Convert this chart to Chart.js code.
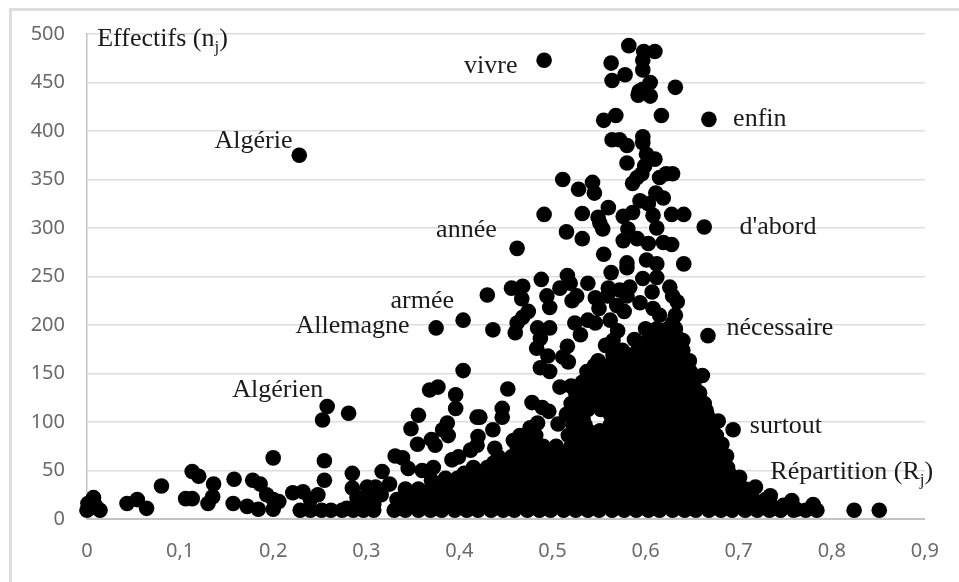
<!DOCTYPE html>
<html>
<head>
<meta charset="utf-8">
<title>Effectifs et répartition</title>
<script src="https://cdn.jsdelivr.net/npm/chart.js@4"></script>
<style>
	html, body { margin: 0; padding: 0; background: #fff; overflow: hidden; }
	#wrap { position: relative; width: 959px; height: 582px; }
	#frame { position: absolute; left: 9px; top: 8px; right: 0; bottom: 0; border-left: 3px solid #dedede; border-top: 3px solid #dedede; }
	#chart { position: absolute; left: 0; top: 0; }
</style>
</head>
<body>
<div id="wrap">
	<div id="frame"></div>
	<canvas id="chart" width="959" height="582"></canvas>
</div>
<script>
// [Rj, nj]
const topWords = [
	[0.582, 488], [0.491, 473], [0.598, 482], [0.610, 482], [0.563, 470], [0.597, 473], [0.597, 463], [0.578, 458],
	[0.564, 452], [0.605, 450], [0.632, 445], [0.593, 441], [0.592, 437], [0.605, 436], [0.597, 443], [0.617, 416],
	[0.568, 416], [0.555, 411], [0.668, 412], [0.597, 394], [0.564, 391], [0.572, 391], [0.580, 385], [0.597, 388],
	[0.601, 376], [0.610, 371], [0.580, 367], [0.599, 364], [0.629, 356], [0.622, 356], [0.615, 352], [0.596, 356],
	[0.591, 352], [0.586, 346], [0.511, 350], [0.543, 347], [0.528, 340], [0.545, 336], [0.594, 328], [0.611, 336],
	[0.619, 331], [0.228, 375],
]
const middleWords = [
	[0.560, 321], [0.491, 314], [0.532, 315], [0.549, 311], [0.551, 305], [0.554, 299], [0.576, 312], [0.586, 316],
	[0.603, 325], [0.608, 313], [0.612, 300], [0.628, 314], [0.641, 314], [0.663, 301], [0.581, 299], [0.515, 296],
	[0.532, 289], [0.576, 287], [0.591, 289], [0.603, 284], [0.619, 285], [0.628, 283], [0.462, 279], [0.555, 273],
	[0.580, 264], [0.580, 259], [0.601, 267], [0.612, 263], [0.641, 263], [0.563, 254], [0.516, 251], [0.488, 247],
	[0.612, 249], [0.597, 248], [0.519, 243], [0.538, 243], [0.468, 240], [0.456, 238], [0.430, 231], [0.508, 238],
	[0.494, 230], [0.526, 230], [0.560, 238], [0.583, 239], [0.572, 236], [0.607, 234], [0.626, 239], [0.629, 230],
	[0.634, 224], [0.546, 228], [0.559, 230], [0.467, 227], [0.521, 225], [0.497, 218], [0.550, 217], [0.580, 230],
	[0.569, 220], [0.577, 214], [0.594, 223], [0.608, 217], [0.615, 210], [0.632, 210], [0.629, 202], [0.474, 214],
	[0.468, 208], [0.462, 202], [0.460, 192], [0.404, 205], [0.375, 197], [0.436, 195], [0.484, 197], [0.497, 197],
	[0.524, 202], [0.538, 205], [0.546, 202], [0.562, 205], [0.530, 190], [0.667, 189], [0.640, 184], [0.570, 194],
	[0.565, 184], [0.557, 179], [0.487, 186], [0.483, 176], [0.495, 168], [0.516, 178], [0.511, 167], [0.517, 162],
	[0.487, 156], [0.497, 152], [0.404, 153], [0.661, 148], [0.452, 134],
]
const lowWords = [
	[0.258, 116], [0.253, 102], [0.281, 109], [0.200, 63], [0.255, 60], [0.255, 40], [0.285, 47], [0.368, 133],
	[0.377, 136], [0.396, 128], [0.396, 114], [0.356, 107], [0.419, 105], [0.348, 93], [0.387, 99], [0.382, 92],
	[0.388, 86], [0.370, 82], [0.374, 76], [0.355, 77], [0.331, 65], [0.339, 63], [0.392, 61], [0.399, 64],
	[0.412, 71], [0.419, 76], [0.345, 52], [0.317, 49], [0.360, 50], [0.372, 53], [0.370, 40], [0.113, 49],
	[0.120, 44], [0.136, 36], [0.158, 41], [0.178, 40], [0.186, 36], [0.080, 34], [0.193, 25], [0.135, 23],
	[0.106, 21], [0.113, 21], [0.130, 16], [0.157, 16], [0.172, 13], [0.184, 10], [0.200, 10], [0.206, 18],
	[0.200, 20], [0.043, 16], [0.054, 20], [0.064, 11], [0.007, 22], [0.001, 16], [0.000, 9], [0.014, 9],
	[0.004, 12], [0.009, 14], [0.221, 27], [0.232, 28], [0.248, 25], [0.240, 20], [0.285, 32], [0.301, 33],
	[0.290, 22], [0.303, 27], [0.310, 33], [0.316, 25], [0.325, 36], [0.279, 11], [0.296, 16], [0.308, 15],
	[0.478, 120], [0.489, 115], [0.496, 111], [0.446, 114], [0.446, 105], [0.422, 105], [0.506, 98], [0.508, 136],
	[0.436, 92], [0.420, 85], [0.465, 86], [0.476, 94], [0.484, 99], [0.458, 81], [0.438, 73], [0.520, 137],
	[0.694, 92], [0.678, 101], [0.665, 112], [0.682, 77], [0.687, 65], [0.701, 43], [0.718, 33], [0.734, 24],
	[0.757, 19], [0.780, 15], [0.824, 9], [0.851, 9], [0.762, 10], [0.650, 128], [0.656, 120],
]

// Dense mass at the foot of the cloud, listed per effectif level
const denseCounts = [9, 14, 20, 25, 31, 36, 42, 47, 53, 58, 64, 69, 75, 80, 86, 91, 97, 102, 108, 113, 119, 125, 130, 136, 141, 147, 152, 158, 163, 169, 174, 180, 185, 190, 196]
const denseShares = [
	[0.229, 0.240, 0.252, 0.262, 0.274, 0.286, 0.297, 0.308, 0.330, 0.342, 0.356, 0.369, 0.381, 0.395, 0.408, 0.420, 0.434, 0.447, 0.459, 0.473, 0.486, 0.498, 0.512, 0.525, 0.538, 0.550, 0.564, 0.577, 0.590, 0.603, 0.615, 0.629, 0.642, 0.654, 0.668, 0.681, 0.693, 0.707, 0.720, 0.733, 0.745, 0.759, 0.772, 0.784],
	[0.339, 0.353, 0.366, 0.380, 0.394, 0.407, 0.420, 0.433, 0.446, 0.460, 0.473, 0.486, 0.499, 0.512, 0.526, 0.539, 0.552, 0.565, 0.578, 0.591, 0.604, 0.618, 0.631, 0.644, 0.657, 0.670, 0.683, 0.696, 0.709, 0.722, 0.735, 0.748],
	[0.333, 0.347, 0.360, 0.374, 0.388, 0.401, 0.413, 0.427, 0.440, 0.453, 0.466, 0.480, 0.493, 0.506, 0.519, 0.532, 0.546, 0.559, 0.572, 0.585, 0.598, 0.611, 0.624, 0.637, 0.650, 0.663, 0.676, 0.689, 0.702, 0.716, 0.729],
	[0.349, 0.363, 0.376, 0.390, 0.404, 0.417, 0.430, 0.444, 0.458, 0.471, 0.485, 0.498, 0.512, 0.525, 0.539, 0.552, 0.565, 0.579, 0.592, 0.606, 0.619, 0.633, 0.646, 0.660, 0.673, 0.687, 0.700, 0.712],
	[0.342, 0.356, 0.369, 0.383, 0.397, 0.410, 0.424, 0.437, 0.451, 0.464, 0.478, 0.491, 0.505, 0.518, 0.532, 0.545, 0.559, 0.572, 0.586, 0.599, 0.613, 0.626, 0.640, 0.653, 0.667, 0.680, 0.694, 0.707],
	[0.376, 0.390, 0.404, 0.417, 0.431, 0.444, 0.458, 0.471, 0.485, 0.498, 0.512, 0.525, 0.539, 0.552, 0.565, 0.579, 0.592, 0.606, 0.619, 0.633, 0.646, 0.660, 0.673, 0.687, 0.700],
	[0.385, 0.398, 0.412, 0.426, 0.440, 0.453, 0.467, 0.480, 0.494, 0.507, 0.521, 0.534, 0.548, 0.561, 0.575, 0.588, 0.602, 0.615, 0.629, 0.642, 0.656, 0.669, 0.683, 0.696],
	[0.405, 0.419, 0.433, 0.447, 0.460, 0.474, 0.487, 0.501, 0.514, 0.528, 0.541, 0.555, 0.568, 0.582, 0.595, 0.609, 0.622, 0.636, 0.649, 0.663, 0.676, 0.690],
	[0.415, 0.430, 0.444, 0.458, 0.471, 0.485, 0.498, 0.512, 0.525, 0.539, 0.552, 0.566, 0.579, 0.593, 0.606, 0.620, 0.633, 0.647, 0.660, 0.674, 0.688],
	[0.437, 0.451, 0.464, 0.478, 0.491, 0.505, 0.518, 0.532, 0.545, 0.559, 0.572, 0.586, 0.599, 0.613, 0.626, 0.640, 0.653, 0.666, 0.680],
	[0.442, 0.456, 0.470, 0.484, 0.497, 0.511, 0.524, 0.538, 0.551, 0.565, 0.578, 0.592, 0.605, 0.619, 0.632, 0.646, 0.659, 0.672, 0.685],
	[0.463, 0.477, 0.490, 0.504, 0.517, 0.531, 0.544, 0.558, 0.571, 0.585, 0.598, 0.612, 0.625, 0.639, 0.652, 0.665, 0.678],
	[0.462, 0.476, 0.490, 0.504, 0.520, 0.533, 0.547, 0.560, 0.574, 0.587, 0.601, 0.614, 0.628, 0.641, 0.655, 0.668, 0.679],
	[0.525, 0.539, 0.553, 0.567, 0.580, 0.594, 0.607, 0.621, 0.634, 0.648, 0.661, 0.673],
	[0.468, 0.482, 0.517, 0.530, 0.544, 0.557, 0.571, 0.584, 0.598, 0.611, 0.625, 0.638, 0.652, 0.664, 0.676],
	[0.525, 0.538, 0.551, 0.568, 0.582, 0.595, 0.609, 0.622, 0.636, 0.650, 0.662, 0.672],
	[0.522, 0.535, 0.562, 0.575, 0.589, 0.602, 0.616, 0.629, 0.643, 0.656, 0.669],
	[0.533, 0.568, 0.582, 0.596, 0.609, 0.623, 0.636, 0.650, 0.663],
	[0.515, 0.528, 0.562, 0.576, 0.590, 0.603, 0.617, 0.630, 0.644, 0.657, 0.666],
	[0.524, 0.538, 0.552, 0.568, 0.581, 0.595, 0.608, 0.622, 0.635, 0.649, 0.660],
	[0.520, 0.533, 0.546, 0.560, 0.574, 0.588, 0.601, 0.615, 0.628, 0.642, 0.655, 0.663],
	[0.532, 0.546, 0.560, 0.574, 0.588, 0.601, 0.615, 0.629, 0.642, 0.655],
	[0.525, 0.540, 0.553, 0.567, 0.581, 0.595, 0.608, 0.622, 0.636, 0.649, 0.658],
	[0.530, 0.546, 0.560, 0.574, 0.588, 0.601, 0.615, 0.629, 0.642, 0.652],
	[0.532, 0.548, 0.561, 0.575, 0.589, 0.602, 0.616, 0.630, 0.643, 0.652],
	[0.542, 0.555, 0.568, 0.582, 0.595, 0.609, 0.623, 0.636, 0.648],
	[0.537, 0.552, 0.566, 0.580, 0.594, 0.607, 0.621, 0.634, 0.648],
	[0.545, 0.560, 0.575, 0.592, 0.606, 0.620, 0.634, 0.645],
	[0.549, 0.570, 0.585, 0.599, 0.613, 0.627, 0.640, 0.647],
	[0.565, 0.583, 0.599, 0.613, 0.627, 0.639],
	[0.575, 0.592, 0.606, 0.620, 0.634, 0.640],
	[0.597, 0.610, 0.624, 0.634],
	[0.588, 0.603, 0.617, 0.629, 0.637],
	[0.607, 0.620, 0.630],
	[0.600, 0.612, 0.624, 0.632],
]

const labelTexts = ['Effectifs (n', 'vivre', 'Algérie', 'enfin', 'année', "d'abord", 'armée', 'Allemagne', 'nécessaire', 'Algérien', 'surtout', 'Répartition (R']
const labelShares = [0.011, 0.405, 0.137, 0.694, 0.375, 0.701, 0.326, 0.224, 0.687, 0.156, 0.712, 0.734]
const labelCounts = [488, 460, 382, 405, 291, 294, 218, 192, 190, 126, 89, 41]

const xTicks = [0, 0.1, 0.2, 0.3, 0.4, 0.5, 0.6, 0.7, 0.8, 0.9]

const points = [...topWords, ...middleWords, ...lowWords].map(([x, y]) => ({ x, y }))
denseCounts.forEach((count, i) => {
	denseShares[i].forEach((x) => points.push({ x, y: count }))
})

// Word labels sit on the canvas in data coordinates, with a subscript j on the two axis names
const wordLabels = {
	id: 'wordLabels',
	afterDatasetsDraw(chart) {
		const { ctx, scales } = chart
		ctx.save()
		ctx.fillStyle = '#1a1a1a'
		ctx.textBaseline = 'alphabetic'
		labelTexts.forEach((text, i) => {
			const px = scales.x.getPixelForValue(labelShares[i])
			const py = scales.y.getPixelForValue(labelCounts[i])
			ctx.font = '26px "Liberation Serif"'
			ctx.fillText(text, px, py)
			if (text.endsWith('(n') || text.endsWith('(R')) {
				const width = ctx.measureText(text).width
				ctx.font = '17px "Liberation Serif"'
				ctx.fillText('j', px + width, py + 6)
				const subWidth = ctx.measureText('j').width
				ctx.font = '26px "Liberation Serif"'
				ctx.fillText(')', px + width + subWidth, py)
			}
		})
		ctx.restore()
	},
}

new Chart(document.getElementById('chart'), {
	type: 'scatter',
	data: {
		datasets: [{
			data: points,
			backgroundColor: '#000',
			borderWidth: 0,
			pointRadius: 7.8,
			clip: false,
		}],
	},
	options: {
		responsive: false,
		animation: false,
		devicePixelRatio: 1,
		layout: { padding: { left: 0, top: 33, right: 34, bottom: 0 } },
		plugins: { legend: { display: false }, tooltip: { enabled: false } },
		scales: {
			x: {
				type: 'linear',
				min: 0,
				max: 0.9,
				afterFit(scale) { scale.height = 63 },
				afterBuildTicks(scale) { scale.ticks = xTicks.map((value) => ({ value })) },
				grid: { display: false, drawTicks: false },
				border: { color: '#c4c4c4', width: 2 },
				ticks: {
					color: '#6a6a6a',
					padding: 20,
					maxRotation: 0,
					font: { family: '"Noto Sans"', size: 20 },
					callback: (value) => (value === 0 ? '0' : value.toFixed(1).replace('.', ',')),
				},
			},
			y: {
				min: 0,
				max: 500,
				afterFit(scale) { scale.width = 87 },
				grid: { color: '#dddddd', lineWidth: 1.5, drawTicks: false },
				border: { color: '#c4c4c4', width: 1.5 },
				ticks: {
					stepSize: 50,
					color: '#6a6a6a',
					padding: 22,
					font: { family: '"Noto Sans"', size: 20 },
				},
			},
		},
	},
	plugins: [wordLabels],
})
</script>
</body>
</html>
